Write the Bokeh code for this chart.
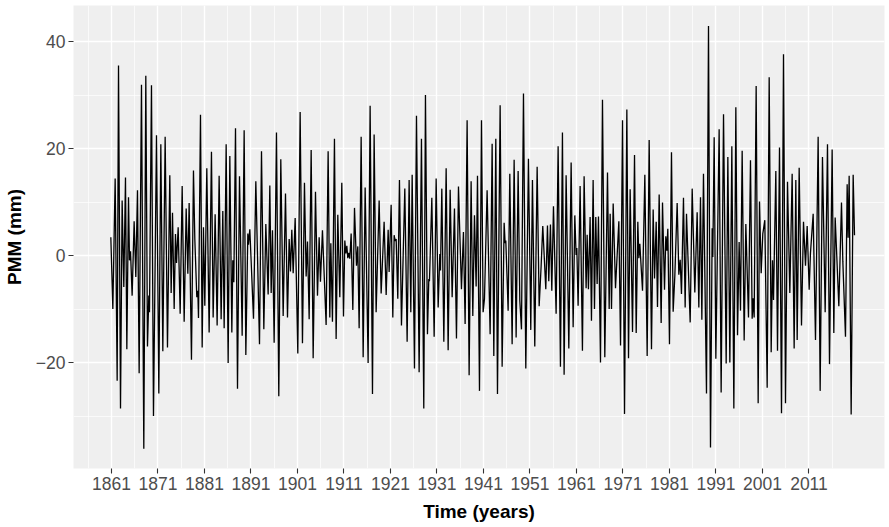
from bokeh.plotting import figure
from bokeh.models import ColumnDataSource, FixedTicker, Range1d
from bokeh.embed import file_html
from bokeh.resources import INLINE

# Seasonal PMM anomaly (mm), split by period; times are decimal years
years_1861_1886 = [1860.86, 1861.29, 1861.79, 1862.22, 1862.51, 1862.94, 1863.29, 1863.65, 1864.01, 1864.30,
                   1864.66, 1864.87, 1865.09, 1865.44, 1865.87, 1866.23, 1866.59, 1866.95, 1867.45, 1867.95,
                   1868.38, 1868.74, 1869.03, 1869.17, 1869.60, 1870.03, 1870.68, 1871.18, 1871.61, 1872.04,
                   1872.54, 1873.04, 1873.54, 1873.83, 1874.12, 1874.48, 1874.76, 1874.98, 1875.34, 1875.77,
                   1876.20, 1876.63, 1877.06, 1877.42, 1877.70, 1878.20, 1878.63, 1878.92, 1879.35, 1879.57,
                   1879.71, 1880.14, 1880.50, 1880.78, 1881.07, 1881.50, 1882.00, 1882.50, 1882.86, 1883.29,
                   1883.72, 1884.15, 1884.58, 1884.94, 1885.23, 1885.66, 1886.09, 1886.45]
pmm_1861_1886 = [3.4, -10.0, 14.4, -23.4, 35.5, -28.6, 10.3, -5.9, 14.6, -17.5,
                 10.9, -0.9, 0.8, -7.5, 6.4, -4.0, 12.2, -22.0, 31.9, -36.1,
                 33.6, -17.0, -7.5, -10.6, 31.8, -30.0, 22.5, -25.8, 20.8, -17.9,
                 22.2, -17.2, 15.0, -7.0, 8.0, -10.0, 4.0, -1.4, 5.3, -10.9,
                 13.0, -12.4, 8.8, -3.4, 9.8, -19.5, 15.9, 3.1, -7.8, -6.6,
                 -11.7, 26.3, -17.2, 5.3, -9.4, 16.3, -14.4, 19.4, -11.6, 7.7,
                 -13.1, 14.9, -11.9, 8.3, -13.6, 20.8, -20.1, 18.6]

years_1887_1913 = [1886.88, 1887.09, 1887.31, 1887.67, 1888.10, 1888.53, 1889.10, 1889.53, 1889.89, 1890.32,
                   1890.46, 1890.75, 1891.54, 1892.04, 1892.83, 1893.26, 1893.76, 1894.19, 1894.69, 1895.05,
                   1895.34, 1895.62, 1895.98, 1896.48, 1896.98, 1897.41, 1897.92, 1898.42, 1898.85, 1899.21,
                   1899.49, 1899.78, 1900.07, 1900.50, 1901.07, 1901.57, 1902.07, 1902.50, 1902.86, 1903.15,
                   1903.51, 1903.94, 1904.37, 1904.87, 1905.30, 1905.66, 1905.94, 1906.37, 1907.16, 1907.59,
                   1907.95, 1908.17, 1908.52, 1908.95, 1909.31, 1909.67, 1910.10, 1910.53, 1910.89, 1911.18,
                   1911.39, 1911.61, 1911.82, 1912.04, 1912.25, 1912.54, 1912.90, 1913.26]
pmm_1887_1913 = [-14.4, -0.9, -5.0, 23.8, -24.9, 14.8, -15.0, 23.4, -18.6, 4.1,
                 2.0, 4.9, -11.8, 13.9, -16.6, 19.5, -13.8, 5.9, -7.3, 13.1,
                 -7.0, 4.7, -16.3, 23.0, -26.3, 18.0, -11.3, 11.6, -11.6, 3.1,
                 -3.0, 4.8, -3.3, 7.0, -18.3, 26.8, -16.4, 13.6, -3.9, 2.6,
                 -11.9, 19.7, -19.2, 11.9, -7.5, 3.4, -4.9, 4.7, -13.0, 19.5,
                 -11.6, 2.3, -12.4, 21.8, -15.6, 7.6, -7.8, 13.6, -11.4, 2.8,
                 0.4, 1.8, -0.5, 0.5, -0.6, 4.1, -10.2, 8.9]

years_1914_1940 = [1913.69, 1913.97, 1914.26, 1914.69, 1915.12, 1915.55, 1916.19, 1916.62, 1917.13, 1917.48,
                   1917.91, 1918.56, 1918.99, 1919.63, 1920.07, 1920.50, 1920.71, 1921.14, 1921.50, 1921.79,
                   1922.00, 1922.22, 1922.57, 1922.93, 1923.36, 1924.08, 1924.58, 1925.01, 1925.37, 1925.66,
                   1926.16, 1926.59, 1927.16, 1927.66, 1928.16, 1928.52, 1928.95, 1929.24, 1929.38, 1929.89,
                   1930.39, 1930.82, 1931.25, 1931.61, 1931.75, 1932.04, 1932.47, 1932.97, 1933.40, 1933.83,
                   1934.26, 1934.76, 1935.19, 1935.62, 1936.26, 1936.69, 1937.05, 1937.48, 1937.91, 1938.34,
                   1938.70, 1939.06, 1939.42, 1939.71, 1940.14]
pmm_1914_1940 = [-1.9, 1.7, -13.6, 22.2, -19.0, 12.7, -20.1, 28.0, -25.9, 22.6,
                 -10.6, 10.3, -7.1, 6.3, -7.4, 4.8, -3.1, 9.5, -11.6, 3.8,
                 2.7, 3.1, -8.1, 14.1, -13.1, 12.5, -16.1, 14.1, -10.6, 15.1,
                 -21.1, 26.1, -21.8, 21.8, -28.6, 30.0, -14.7, -4.4, -4.8, 10.8,
                 -15.2, 14.4, -9.7, 0.3, -2.8, 12.5, -16.1, 16.3, -17.7, 12.3,
                 -7.8, 8.8, -15.5, 12.9, -6.3, 4.4, -12.8, 25.3, -22.4, 13.9,
                 -11.3, 7.5, -5.8, 14.9, -25.3]

years_1941_1967 = [1940.57, 1940.92, 1941.21, 1941.78, 1942.43, 1942.86, 1943.22, 1943.65, 1944.01, 1944.58,
                   1945.01, 1945.44, 1945.65, 1945.80, 1946.30, 1946.66, 1947.16, 1947.59, 1948.02, 1948.45,
                   1948.81, 1949.17, 1949.60, 1950.10, 1950.67, 1951.17, 1951.53, 1952.03, 1952.54, 1952.97,
                   1953.40, 1953.75, 1954.40, 1954.76, 1955.04, 1955.40, 1955.69, 1956.05, 1956.62, 1957.05,
                   1957.55, 1957.98, 1958.34, 1958.77, 1959.35, 1959.85, 1960.28, 1960.64, 1960.92, 1961.07,
                   1961.35, 1961.78, 1962.28, 1962.64, 1963.07, 1963.29, 1963.57, 1963.93, 1964.22, 1964.58,
                   1964.87, 1965.15, 1965.44, 1965.73, 1966.16, 1966.59, 1967.09]
pmm_1941_1967 = [25.3, -10.6, -8.1, 12.2, -14.7, 20.9, -18.8, 21.8, -25.9, 28.1,
                 -20.8, 6.1, 2.3, 2.8, -10.3, 15.3, -16.6, 17.9, -15.3, 15.8,
                 -8.4, -13.8, 30.3, -21.1, 18.1, -13.9, 14.1, -17.0, 16.6, -9.5,
                 -1.9, 5.5, -6.3, 5.6, -4.8, 5.8, -6.6, 9.2, -10.9, 20.4,
                 -20.8, 23.0, -22.3, 15.0, -17.4, 17.4, -13.4, 7.5, 0.1, 1.4,
                 -9.4, 13.0, -17.8, 14.8, -6.1, 3.9, -6.3, 7.2, -12.2, 14.1,
                 -10.0, 7.2, -5.3, 7.3, -20.0, 29.1, -19.0]

years_1968_1994 = [1967.67, 1968.03, 1968.24, 1968.53, 1968.89, 1969.39, 1970.11, 1970.47, 1970.90, 1971.33,
                   1971.83, 1972.19, 1972.54, 1973.05, 1973.48, 1973.84, 1974.19, 1974.41, 1974.62, 1975.20,
                   1975.70, 1976.20, 1976.63, 1977.13, 1977.49, 1977.78, 1978.14, 1978.42, 1978.78, 1979.21,
                   1979.50, 1979.93, 1980.21, 1980.43, 1980.64, 1981.00, 1981.43, 1981.79, 1982.15, 1982.65,
                   1983.01, 1983.30, 1983.58, 1984.01, 1984.37, 1984.66, 1985.45, 1985.88, 1986.45, 1986.95,
                   1987.31, 1987.67, 1987.96, 1988.31, 1988.96, 1989.39, 1989.82, 1990.18, 1990.32, 1990.61,
                   1990.97, 1991.68, 1992.11, 1992.62, 1993.19, 1993.55, 1993.98]
pmm_1968_1994 = [15.5, -10.0, 7.8, -10.0, 9.7, -6.1, 6.4, -16.8, 25.3, -29.6,
                 27.3, -19.2, 12.4, -14.3, 18.8, -14.5, 6.3, -0.5, 2.2, -6.6,
                 15.1, -18.8, 21.6, -17.5, 8.6, -4.3, 6.3, -9.6, 11.4, -12.6,
                 9.9, -6.4, 3.6, 0.9, 5.0, -16.6, 19.3, -10.5, -3.8, 9.8,
                 -3.6, -0.8, -7.2, 10.8, -9.7, 7.8, -12.5, 12.5, -6.9, 8.1,
                 -9.7, 10.9, -12.0, 15.3, -25.8, 42.9, -35.9, 5.1, -0.3, 22.1,
                 -19.3, 23.6, -25.6, 26.4, -20.2, 18.4, -20.0]

years_1995_2021 = [1994.41, 1994.84, 1995.27, 1995.63, 1995.98, 1996.27, 1996.63, 1997.06, 1997.42, 1997.99,
                   1998.42, 1998.78, 1998.99, 1999.21, 1999.64, 2000.07, 2000.36, 2000.72, 2001.07, 2001.50,
                   2002.01, 2002.44, 2002.87, 2003.15, 2003.37, 2003.87, 2004.23, 2004.66, 2005.09, 2005.52,
                   2005.95, 2006.38, 2006.88, 2007.38, 2007.81, 2008.17, 2008.46, 2008.89, 2009.39, 2009.82,
                   2010.25, 2010.61, 2011.04, 2011.32, 2011.90, 2012.40, 2012.97, 2013.40, 2013.90, 2014.48,
                   2014.98, 2015.41, 2015.98, 2016.34, 2016.63, 2016.91, 2017.42, 2017.99, 2018.28, 2018.85,
                   2019.21, 2019.42, 2019.64, 2020.07, 2020.50, 2020.79]
pmm_1995_2021 = [20.4, -28.6, 27.7, -14.9, 2.5, -10.3, 19.6, -15.9, 5.9, -11.6,
                 17.8, -11.8, -8.0, -11.6, 31.7, -27.6, 10.1, -3.3, 4.1, 6.6,
                 -24.7, 33.3, -18.1, -0.9, -8.3, 15.8, -17.8, 20.2, -29.5, 37.6,
                 -27.6, 13.8, -7.0, 15.3, -17.4, 14.1, -15.8, 16.4, -13.1, 6.3,
                 -1.9, 5.5, -6.4, 0.5, 7.8, -15.8, 22.2, -25.3, 18.4, -10.6,
                 20.8, -20.3, 19.8, -14.5, 7.1, 1.3, -9.5, 9.9, -1.1, -15.2,
                 13.3, 3.3, 14.9, -29.7, 15.1, 3.8]

# Axis breaks
x_breaks = list(range(1861, 2012, 10))
x_minor = list(range(1856, 2022, 10))
y_breaks = [-20, 0, 20, 40]
y_minor = [-30, -10, 10, 30]
y_labels = {-20: "\u221220", 0: "0", 20: "20", 40: "40"}

periods = [
    (years_1861_1886, pmm_1861_1886),
    (years_1887_1913, pmm_1887_1913),
    (years_1914_1940, pmm_1914_1940),
    (years_1941_1967, pmm_1941_1967),
    (years_1968_1994, pmm_1968_1994),
    (years_1995_2021, pmm_1995_2021),
]
time, pmm = [], []
for yrs, vals in periods:
    assert len(yrs) == len(vals)
    time.extend(yrs)
    pmm.extend(vals)

source = ColumnDataSource(data=dict(time=time, pmm=pmm))

PANEL = "#EFEFEF"
FONT = "Liberation Sans"

p = figure(
    width=889, height=527,
    output_backend="svg", toolbar_location=None,
    x_range=Range1d(1852.83, 2027.24),
    y_range=Range1d(-39.81, 46.73),
    min_border_left=73, min_border_right=5,
    min_border_top=5, min_border_bottom=59,
)
p.background_fill_color = PANEL
p.border_fill_color = "white"
p.outline_line_color = None

p.line("time", "pmm", source=source, line_color="black", line_width=1.3)

# x axis
p.xaxis.ticker = FixedTicker(ticks=x_breaks, minor_ticks=x_minor)
p.xaxis.axis_label = "Time (years)"
# y axis
p.yaxis.ticker = FixedTicker(ticks=y_breaks, minor_ticks=y_minor)
p.yaxis.major_label_overrides = y_labels
p.yaxis.axis_label = "PMM (mm)"

for ax in (p.xaxis[0], p.yaxis[0]):
    ax.axis_line_color = None
    ax.minor_tick_line_color = None
    ax.major_tick_line_color = "#333333"
    ax.major_tick_line_width = 1.1
    ax.major_tick_in = 0
    ax.major_tick_out = 5
    ax.major_label_text_font = FONT
    ax.major_label_text_font_size = "17.5px"
    ax.major_label_text_color = "#4D4D4D"
    ax.axis_label_text_font = FONT
    ax.axis_label_text_font_size = "19px"
    ax.axis_label_text_font_style = "bold"
    ax.axis_label_text_color = "black"
p.xaxis.major_label_standoff = 3
p.xaxis.axis_label_standoff = 8
p.yaxis.major_label_standoff = 3
p.yaxis.axis_label_standoff = 8

for g in (p.xgrid[0], p.ygrid[0]):
    g.grid_line_color = "white"
    g.grid_line_width = 1.4
    g.minor_grid_line_color = "white"
    g.minor_grid_line_width = 0.7

open("out.html", "w").write(file_html(p, INLINE))
